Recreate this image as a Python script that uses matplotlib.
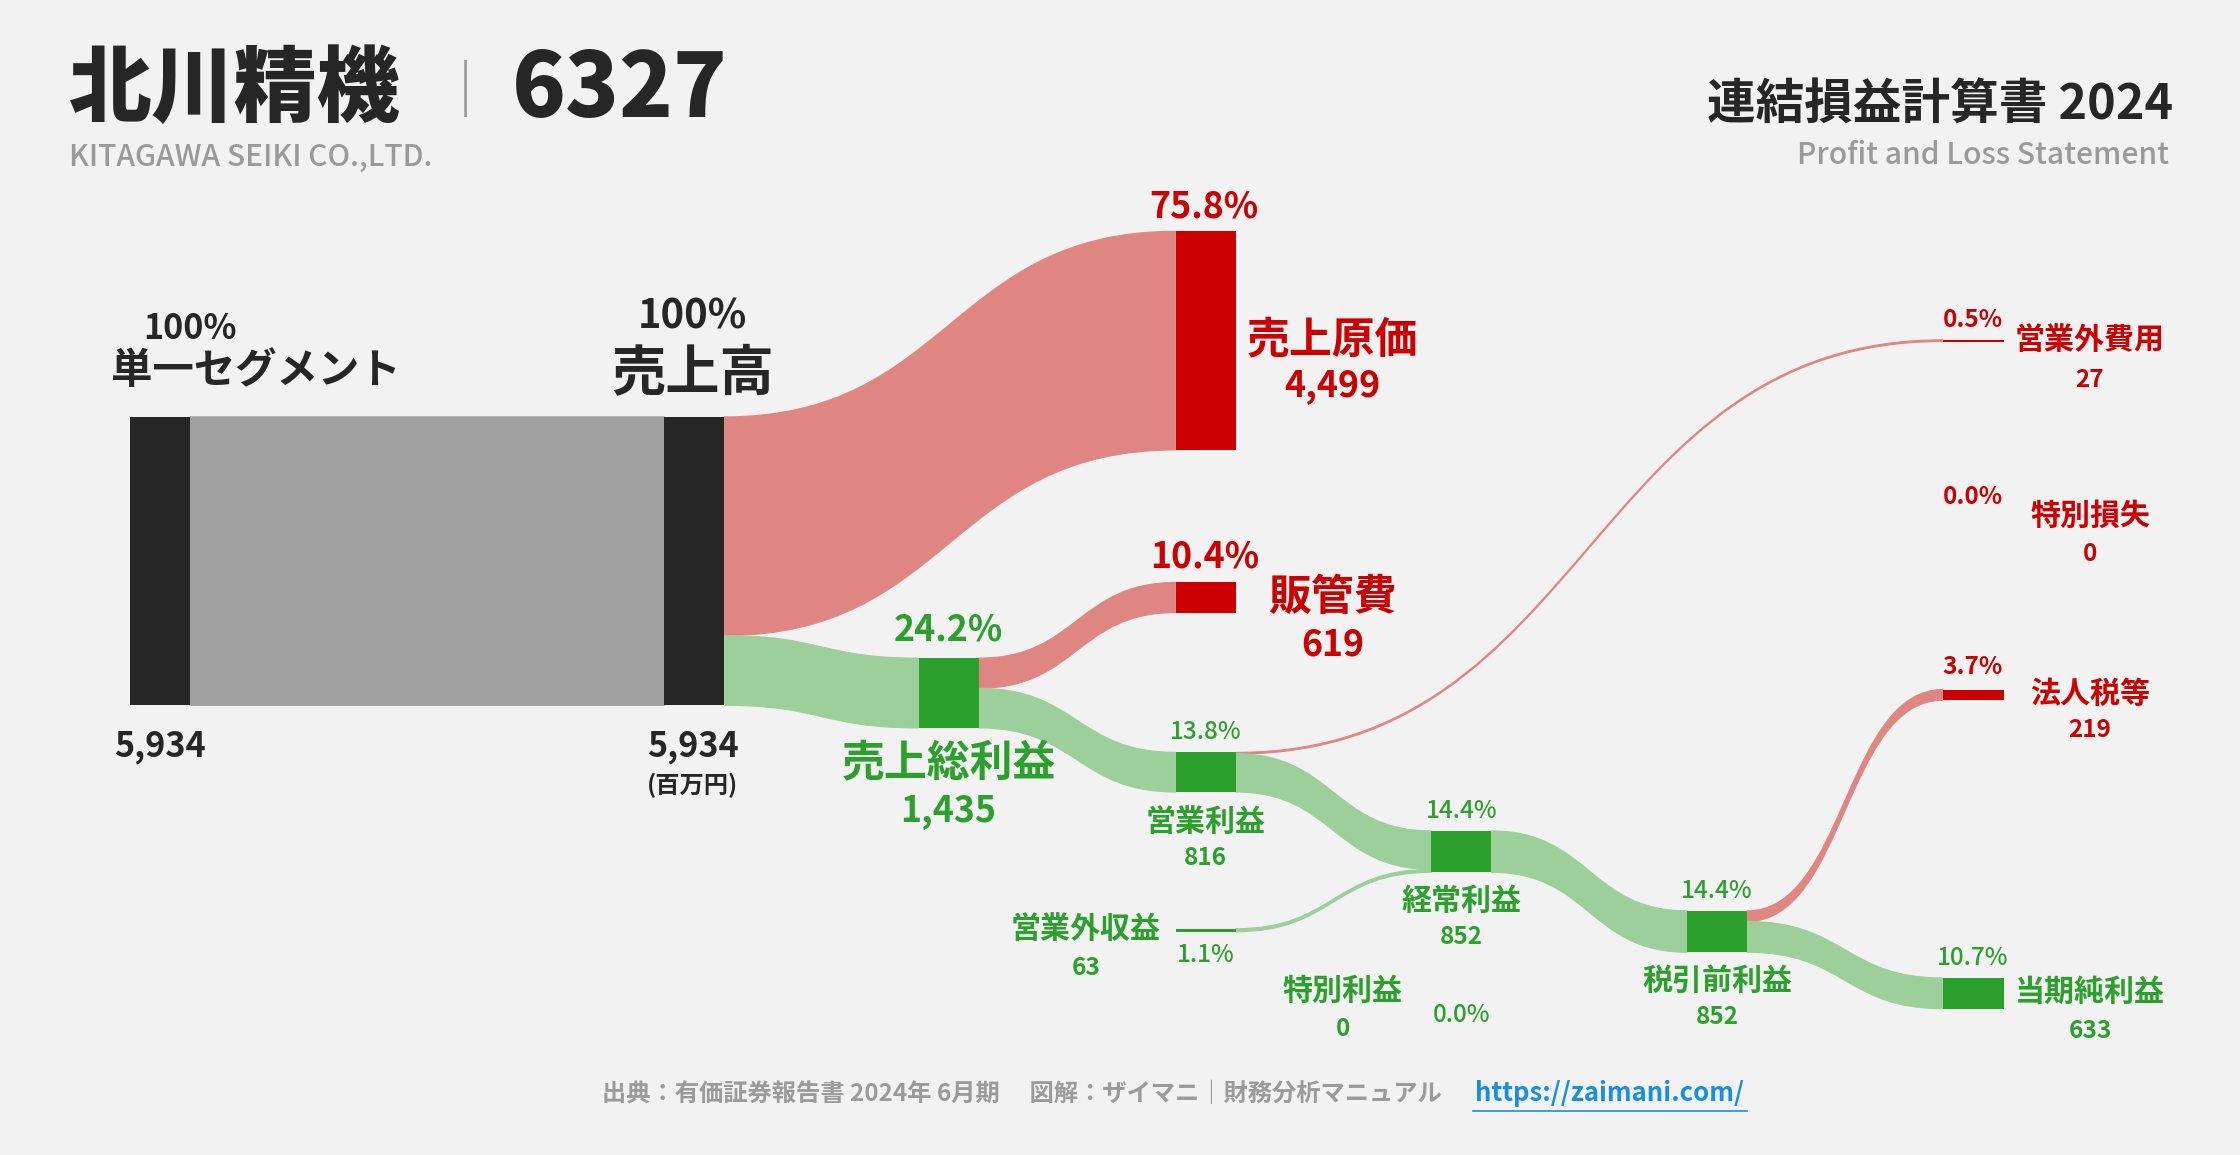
import matplotlib
matplotlib.use("Agg")
import matplotlib.pyplot as plt
from matplotlib.path import Path
from matplotlib.patches import PathPatch, Rectangle
import numpy as np

# ---- data (百万円) ----
revenue = 5934
cogs = 4499
gross_profit = 1435
sga = 619
op_profit = 816
nonop_income = 63
nonop_expense = 27
ordinary_profit = 852
special_income = 0
special_loss = 0
pretax_profit = 852
tax = 219
net_income = 633
pcts = {"cogs": "75.8%", "sga": "10.4%", "gp": "24.2%", "op": "13.8%", "ord": "14.4%",
        "pre": "14.4%", "nox": "0.5%", "sl": "0.0%", "tax": "3.7%", "net": "10.7%",
        "noi": "1.1%", "si": "0.0%"}

W, H = 1568, 809
S = 2240 / W
FONT = "Noto Sans CJK JP"
BG = "#f2f2f2"
GRAY_F, DARK = "#a0a0a0", "#262626"
RED_F, RED = "#e08682", "#cc0000"
GRN_F, GRN = "#9ccf9a", "#2ca02c"

fig = plt.figure(figsize=(22.4, 11.55), dpi=100, facecolor=BG)
ax = fig.add_axes([0, 0, 1, 1])
ax.set_xlim(0, W); ax.set_ylim(H, 0); ax.axis("off")

k = 202.0 / revenue  # px per unit
def hgt(v): return v * k

def node(x, y, v, c, w=42):
    ax.add_patch(Rectangle((x, y), w, max(hgt(v), 1.5), color=c, lw=0))

def flow(x0, y0, x1, y1, v, c):
    h = max(hgt(v), 1.2)
    xm = (x0 + x1) / 2
    verts = [(x0, y0), (xm, y0), (xm, y1), (x1, y1), (x1, y1 + h),
             (xm, y1 + h), (xm, y0 + h), (x0, y0 + h), (x0, y0)]
    codes = [Path.MOVETO, Path.CURVE4, Path.CURVE4, Path.CURVE4, Path.LINETO,
             Path.CURVE4, Path.CURVE4, Path.CURVE4, Path.CLOSEPOLY]
    ax.add_patch(PathPatch(Path(verts, codes), fc=c, ec=c, lw=0.8))

# nodes positions
seg_y = rev_y = 292
cogs_y, gp_y = 162, 461
sga_y, op_y = 408, 527
ord_y, pre_y = 582, 638
nox_y, tax_y, net_y = 238, 483, 685
noi_y = 650.5

flow(133, seg_y, 465, rev_y, revenue, GRAY_F)
flow(507, rev_y, 823, cogs_y, cogs, RED_F)
flow(507, rev_y + hgt(cogs), 643, gp_y, gross_profit, GRN_F)
flow(685, gp_y, 823, sga_y, sga, RED_F)
flow(685, gp_y + hgt(sga), 823, op_y, op_profit, GRN_F)
flow(865, op_y, 1360, nox_y, nonop_expense, RED_F)
flow(865, op_y + hgt(nonop_expense), 1002, ord_y, op_profit - nonop_expense, GRN_F)
flow(865, noi_y, 1002, ord_y + hgt(op_profit - nonop_expense), nonop_income, GRN_F)
flow(1044, ord_y, 1181, pre_y, ordinary_profit, GRN_F)
flow(1223, pre_y, 1360, tax_y, tax, RED_F)
flow(1223, pre_y + hgt(tax), 1360, net_y, net_income, GRN_F)

node(91, seg_y, revenue, DARK); node(465, rev_y, revenue, DARK)
node(823, cogs_y, cogs, RED); node(643, gp_y, gross_profit, GRN)
node(823, sga_y, sga, RED); node(823, op_y, op_profit, GRN)
node(1002, ord_y, ordinary_profit, GRN); node(1181, pre_y, pretax_profit, GRN)
node(1360, nox_y, nonop_expense, RED, 43); node(1360, tax_y, tax, RED, 43)
node(1360, net_y, net_income, GRN, 43); node(823, noi_y, nonop_income, GRN)

def T(x, y, s, px, c=DARK, ha="center", w="bold", fam=FONT):
    ax.text(x, y, s, fontsize=px * S * 0.72, color=c, ha=ha, va="center",
            fontweight=w, family=fam)

# header
T(48, 63, "北川精機", 58, ha="left", w="black")
T(326, 65, "｜", 40, c="#999999")
T(358, 63, "6327", 62, ha="left", w="black")
T(48, 110, "KITAGAWA SEIKI CO.,LTD.", 21, c="#9a9a9a", ha="left", w="medium")
T(1521, 73, "連結損益計算書 2024", 34, ha="right")
T(1518, 109, "Profit and Loss Statement", 21, c="#9a9a9a", ha="right", w="medium")

T(133, 230, "100%", 24); T(179, 260, "単一セグメント", 29)
T(485, 222, "100%", 28); T(485, 262, "売上高", 38)
T(112, 523, f"{revenue:,}", 24); T(485, 523, f"{revenue:,}", 24); T(485, 550, "(百万円)", 17)

T(843, 145, pcts["cogs"], 25, RED); T(933, 238, "売上原価", 30, RED); T(933, 270, f"{cogs:,}", 25, RED)
T(843, 390, pcts["sga"], 25, RED); T(933, 418, "販管費", 30, RED); T(933, 452, f"{sga:,}", 25, RED)
T(664, 441, pcts["gp"], 25, GRN); T(664, 535, "売上総利益", 30, GRN); T(664, 568, f"{gross_profit:,}", 25, GRN)
T(844, 513, pcts["op"], 17, GRN, w="medium"); T(844, 576, "営業利益", 21, GRN); T(844, 601, f"{op_profit:,}", 17, GRN)
T(1023, 568, pcts["ord"], 17, GRN, w="medium"); T(1023, 631, "経常利益", 21, GRN); T(1023, 656, f"{ordinary_profit:,}", 17, GRN)
T(1202, 624, pcts["pre"], 17, GRN, w="medium"); T(1202, 687, "税引前利益", 21, GRN); T(1202, 712, f"{pretax_profit:,}", 17, GRN)
T(1381, 224, pcts["nox"], 17, RED); T(1463, 238, "営業外費用", 21, RED); T(1463, 266, f"{nonop_expense:,}", 17, RED)
T(1381, 348, pcts["sl"], 17, RED); T(1463, 361, "特別損失", 21, RED); T(1463, 388, f"{special_loss:,}", 17, RED)
T(1381, 467, pcts["tax"], 17, RED); T(1463, 486, "法人税等", 21, RED); T(1463, 511, f"{tax:,}", 17, RED)
T(1381, 671, pcts["net"], 17, GRN, w="medium"); T(1463, 695, "当期純利益", 21, GRN); T(1463, 722, f"{net_income:,}", 17, GRN)
T(760, 651, "営業外収益", 21, GRN); T(760, 678, f"{nonop_income:,}", 17, GRN); T(844, 669, pcts["noi"], 17, GRN, w="medium")
T(940, 694, "特別利益", 21, GRN); T(940, 721, f"{special_income:,}", 17, GRN); T(1023, 711, pcts["si"], 17, GRN, w="medium")

# footer
T(715, 766, "出典：有価証券報告書 2024年 6月期　 図解：ザイマニ｜財務分析マニュアル", 17, c="#9a9a9a", w="bold")
T(1127, 766, "https://zaimani.com/", 18, c="#1a8fe0")
ax.plot([1031, 1223], [778, 778], color="#1a8fe0", lw=1.2)

fig.savefig("out.png", dpi=100, facecolor=BG)
